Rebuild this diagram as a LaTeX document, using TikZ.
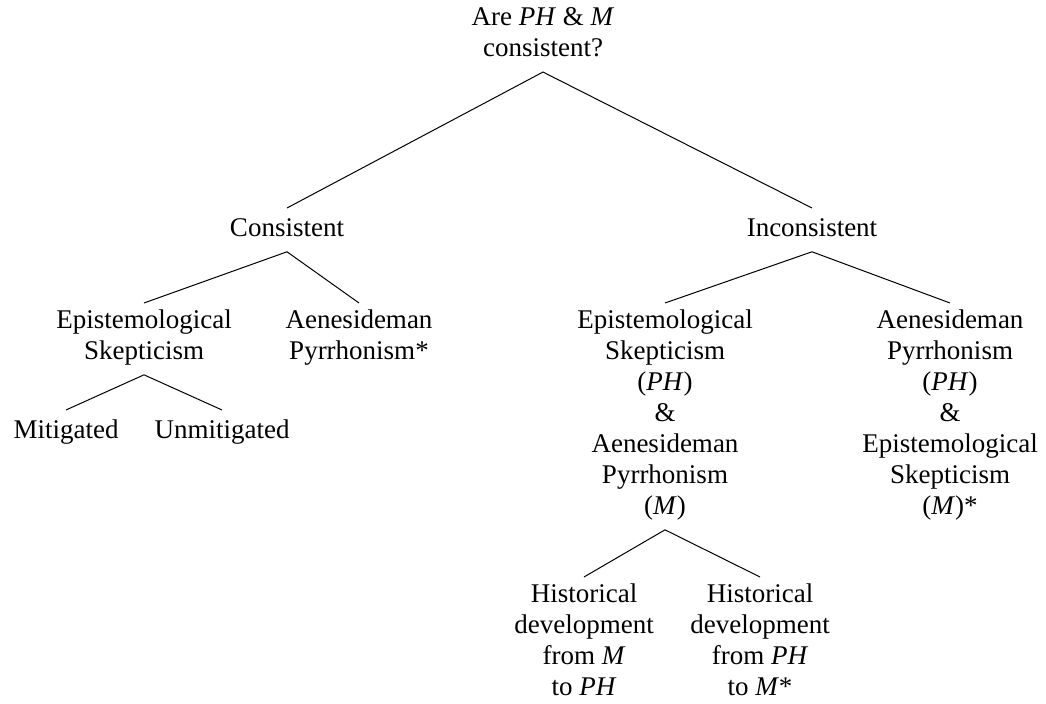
\documentclass[tikz,border=0pt]{standalone}
\usepackage{fontspec}
\setmainfont{Liberation Serif}

\begin{document}
\begin{tikzpicture}[
					x = 0.5pt, y = -0.5pt,
					every node/.style = {align=center, anchor=north, inner xsep=2pt, inner ysep=3pt,
						font=\fontsize{13.5}{15.5}\selectfont,
						execute at begin node=\strut, execute at end node=\strut},
					branch/.style = {line width=0.5pt}]

					\useasboundingbox (0,0) rectangle (1046,704);

					\node (root) at (543,1) {Are \textit{PH} \& \textit{M}\\consistent?};

					\node (cons) at (287,208) {Consistent};
					\node (incons) at (812,208) {Inconsistent};

					\node (es) at (144,303) {Epistemological\\Skepticism};
					\node (ap) at (359,303) {Aenesideman\\Pyrrhonism*};
					\node (mit) at (66,410) {Mitigated};
					\node (unmit) at (222,410) {Unmitigated};

					\node (esap) at (665,303) {Epistemological\\Skepticism\\(\textit{PH})\\\&\\Aenesideman\\Pyrrhonism\\(\textit{M})};
					\node (apes) at (950,303) {Aenesideman\\Pyrrhonism\\(\textit{PH})\\\&\\Epistemological\\Skepticism\\(\textit{M})*};

					\node (histm) at (584,577) {Historical\\development\\from \textit{M}\\to \textit{PH}};
					\node (histph) at (760,577) {Historical\\development\\from \textit{PH}\\to \textit{M}*};

					\draw[branch] (cons.north) -- (root.south) -- (incons.north);
					\draw[branch] (es.north) -- (cons.south) -- (ap.north);
					\draw[branch] (mit.north) -- (es.south) -- (unmit.north);
					\draw[branch] (esap.north) -- (incons.south) -- (apes.north);
					\draw[branch] (histm.north) -- (esap.south) -- (histph.north);

				\end{tikzpicture}
\end{document}
